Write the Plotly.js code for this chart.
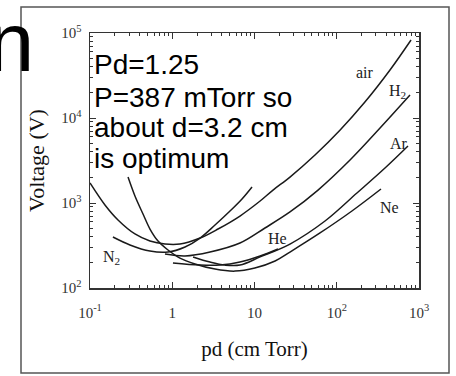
<!DOCTYPE html>
<html><head><meta charset="utf-8">
<script src="https://cdn.plot.ly/plotly-3.0.1.min.js"></script>
<style>html,body{margin:0;padding:0;background:#fff}#chart{width:456px;height:376px}</style>
</head><body><div id="chart"></div>
<script>
// Paschen curves: pd (cm Torr) vs breakdown voltage (V)
const airPd = [0.1, 0.152, 0.219, 0.352, 0.536, 0.816, 1.24, 2.18, 3.6, 6.66, 11.7, 16.8, 27.0, 54.4, 110, 220, 444, 800];
const airV  = [1720, 947, 631, 432, 357, 329, 329, 387, 494, 703, 1055, 1420, 2020, 3670, 7230, 15400, 36700, 82700];
const n2Pd = [0.19, 0.306, 0.536, 0.888, 1.43, 2.18, 3.31, 5.04, 7.05, 9.33];
const n2V  = [398, 321, 272, 265, 304, 387, 551, 805, 1115, 1543];
const h2Pd = [0.816, 1.43, 2.88, 6.66, 13.4, 27.0, 59.2, 145, 336, 777];
const h2V  = [251, 238, 265, 338, 508, 784, 1420, 3205, 7630, 18650];
const nePd = [0.29, 0.352, 0.441, 0.536, 0.671, 0.888, 1.24, 1.89, 3.31, 5.79, 10.1, 17.8, 27.0, 62.6, 153, 345];
const neV  = [2020, 1209, 742, 494, 357, 280, 225, 192, 167, 158, 172, 208, 265, 444, 805, 1461];
const arPd = [1.79, 2.88, 4.38, 6.66, 11.7, 27.0, 72.0, 176, 386, 735];
const arV  = [232, 202, 186, 186, 232, 329, 614, 1311, 2581, 4685];
const hePd = [1.02, 2.18, 3.81, 6.66, 11.7, 19.3];
const heV  = [197, 186, 186, 202, 238, 288];

const xTickVals = [0.1, 1, 10, 100, 1000];
const xTickText = ['10<sup>-1</sup>', '1', '10', '10<sup>2</sup>', '10<sup>3</sup>'];
const yTickVals = [100, 1000, 10000, 100000];
const yTickText = ['10<sup>2</sup>', '10<sup>3</sup>', '10<sup>4</sup>', '10<sup>5</sup>'];
const noteLines = ['Pd=1.25', 'P=387 mTorr so', 'about d=3.2 cm', 'is optimum'];

function minorVals(d0, d1) {
  const v = [];
  for (let d = d0; d < d1; d++) for (let k = 2; k <= 9; k++) v.push(k * Math.pow(10, d));
  return v;
}

const W = 456, H = 376, L = 90, R = 37, T = 33, B = 88;
const pw = W - L - R, ph = H - T - B;
const px = p => (p - L) / pw;
const py = p => (H - B - p) / ph;

const serif = 'Liberation Serif, Times New Roman, serif';
const sans = 'Liberation Sans, Arial, sans-serif';
const lineStyle = {color: '#1a1a1a', width: 1.5, shape: 'spline', smoothing: 1};

const series = [[airPd, airV], [n2Pd, n2V], [h2Pd, h2V], [nePd, neV], [arPd, arV], [hePd, heV]];
const traces = series.map(s => ({x: s[0], y: s[1], type: 'scatter', mode: 'lines', line: lineStyle, showlegend: false, hoverinfo: 'skip'}));

const axisCommon = {
  type: 'log', ticks: 'inside', ticklen: 6, tickwidth: 1, tickcolor: '#333',
  showline: true, linecolor: '#333', linewidth: 1.5, mirror: 'allticks',
  showgrid: false, zeroline: false,
  tickfont: {family: serif, size: 15, color: '#333'}
};

const labelFont = {family: serif, size: 16, color: '#222'};
function lab(t, x, y) {
  return {text: t, x: px(x), y: py(y), xref: 'paper', yref: 'paper', xanchor: 'center', yanchor: 'middle', showarrow: false, font: labelFont};
}
const annotations = [
  {text: 'n', x: px(-14), y: py(43), xref: 'paper', yref: 'paper', xanchor: 'left', yanchor: 'middle', showarrow: false, font: {family: sans, size: 83, color: '#000'}},
  ...noteLines.map((t, i) => ({text: t, x: px(92), y: py([64.6, 97.6, 127.6, 158.6][i]), xref: 'paper', yref: 'paper', xanchor: 'left', yanchor: 'middle', showarrow: false, font: {family: sans, size: 28, color: '#000'}})),
  lab('air', 365, 72),
  lab('H<sub>2</sub>', 397, 92),
  lab('Ar', 399, 143),
  lab('Ne', 389, 207),
  lab('He', 277, 238),
  lab('N<sub>2</sub>', 111, 257)
];

const layout = {
  width: W, height: H,
  margin: {l: L, r: R, t: T, b: B},
  paper_bgcolor: '#fff', plot_bgcolor: '#fff',
  xaxis: Object.assign({}, axisCommon, {
    range: [-1, 3], tickvals: xTickVals, ticktext: xTickText, ticklabelstandoff: 10,
    minor: {ticks: 'inside', ticklen: 3, tickcolor: '#333', tickvals: minorVals(-1, 3)},
    title: {text: 'pd (cm Torr)', font: {family: serif, size: 21, color: '#111'}, standoff: 22}
  }),
  yaxis: Object.assign({}, axisCommon, {
    range: [2, 5], tickvals: yTickVals, ticktext: yTickText, ticklabelstandoff: 4,
    minor: {ticks: 'inside', ticklen: 3, tickcolor: '#333', tickvals: minorVals(2, 5)},
    title: {text: 'Voltage (V)', font: {family: serif, size: 22, color: '#111'}, standoff: 10}
  }),
  annotations: annotations,
  shapes: [{type: 'rect', xref: 'paper', yref: 'paper', x0: px(21), x1: px(449), y0: py(373), y1: py(7), line: {color: '#555', width: 1.5}}]
};

Plotly.newPlot('chart', traces, layout, {staticPlot: true, displayModeBar: false});
</script></body></html>
